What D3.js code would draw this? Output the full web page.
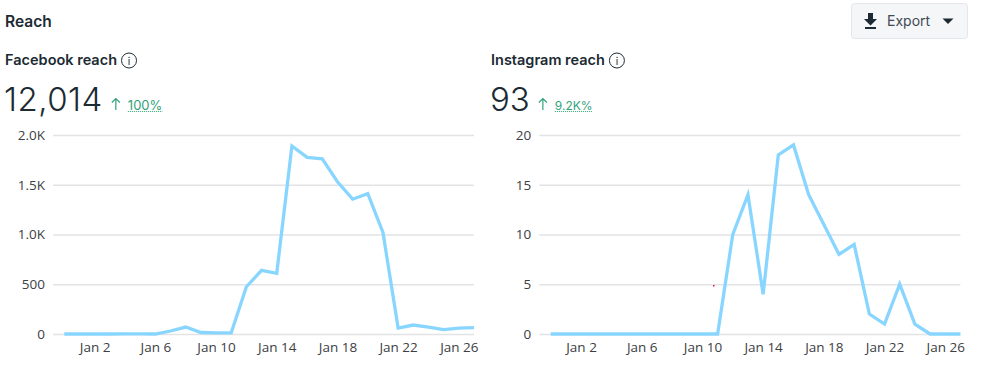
<!DOCTYPE html>
<html>
<head>
<meta charset="utf-8">
<script src="https://cdn.jsdelivr.net/npm/d3@7"></script>
<style>
  html, body { margin: 0; padding: 0; background: #fff; overflow: hidden; }
  text { font-family: Inter, "Noto Sans", sans-serif; }
  .tick text { font-family: "Open Sans", sans-serif; font-size: 13.5px; fill: #3c4043; }
  .tick line.grid { stroke: #e2e3e5; stroke-width: 1.5px; }
  .domain { display: none; }
</style>
</head>
<body>
<svg id="chart" width="981" height="380"></svg>
<script>
var dates = ["2023-12-31", "2024-01-01", "2024-01-02", "2024-01-03", "2024-01-04", "2024-01-05", "2024-01-06",
  "2024-01-07", "2024-01-08", "2024-01-09", "2024-01-10", "2024-01-11", "2024-01-12", "2024-01-13", "2024-01-14",
  "2024-01-15", "2024-01-16", "2024-01-17", "2024-01-18", "2024-01-19", "2024-01-20", "2024-01-21", "2024-01-22",
  "2024-01-23", "2024-01-24", "2024-01-25", "2024-01-26", "2024-01-27"];
var facebookValues = [0, 0, 0, 0, 2, 2, 0, 30, 70, 15, 12, 12, 475, 640, 610, 1890, 1775, 1760, 1530, 1355, 1410, 1020, 60, 90, 70, 45, 60, 65];
var instagramValues = [0, 0, 0, 0, 0, 0, 0, 0, 0, 0, 0, 0, 10, 14, 4, 18, 19, 14, 11, 8, 9, 2, 1, 5, 1, 0, 0, 0];
var facebookTicks = [0, 500, 1000, 1500, 2000];
var facebookTickLabels = ["0", "500", "1.0K", "1.5K", "2.0K"];
var instagramTicks = [0, 5, 10, 15, 20];
var instagramTickLabels = ["0", "5", "10", "15", "20"];
var dateTicks = ["2024-01-02", "2024-01-06", "2024-01-10", "2024-01-14", "2024-01-18", "2024-01-22", "2024-01-26"];

var parseDate = d3.timeParse("%Y-%m-%d");
var svg = d3.select("#chart");

var chartTop = 135;
var chartBottom = 334;

// draws one panel: header text, axes and the line
function drawPanel(opts) {
    var x = d3.scaleTime()
        .domain([parseDate(dates[0]), parseDate(dates[dates.length - 1])])
        .range([opts.lineLeft, opts.right]);
    var y = d3.scaleLinear()
        .domain([0, d3.max(opts.ticks)])
        .range([chartBottom, chartTop]);

    var leftAxis = d3.axisLeft(y)
        .tickValues(opts.ticks)
        .tickFormat((d, i) => opts.tickLabels[i])
        .tickSize(0)
        .tickPadding(8);
    var yAxis = svg.append("g")
        .attr("transform", `translate(${opts.gridLeft}, 0)`)
        .call(leftAxis);
    yAxis.selectAll(".tick").append("line")
        .attr("class", "grid")
        .attr("x1", 0)
        .attr("x2", opts.right - opts.gridLeft);

    var bottomAxis = d3.axisBottom(x)
        .tickValues(dateTicks.map(parseDate))
        .tickFormat(d3.timeFormat("%b %-d"))
        .tickSize(0)
        .tickPadding(8);
    svg.append("g")
        .attr("transform", `translate(0, ${chartBottom})`)
        .call(bottomAxis);

    var line = d3.line()
        .x((d, i) => x(parseDate(dates[i])))
        .y(d => y(d));
    svg.append("path")
        .datum(opts.values)
        .attr("d", line)
        .attr("fill", "none")
        .attr("stroke", "#88d6ff")
        .attr("stroke-width", 3.3)
        .attr("stroke-linejoin", "miter");

    // header
    var title = svg.append("text")
        .attr("x", opts.textLeft)
        .attr("y", 65)
        .attr("font-size", 14.5)
        .attr("font-weight", 600)
        .attr("fill", "#1c2b33")
        .text(opts.title);
    var titleEnd = opts.textLeft + title.node().getComputedTextLength();
    var infoX = titleEnd + 12;
    svg.append("circle")
        .attr("cx", infoX)
        .attr("cy", 60.5)
        .attr("r", 7.5)
        .attr("fill", "none")
        .attr("stroke", "#1c2b33")
        .attr("stroke-width", 1);
    svg.append("text")
        .attr("x", infoX)
        .attr("y", 65)
        .attr("text-anchor", "middle")
        .attr("font-size", 10.5)
        .attr("fill", "#1c2b33")
        .text("i");

    var total = svg.append("text")
        .attr("x", opts.textLeft - 1)
        .attr("y", 111)
        .attr("font-size", 33)
        .attr("font-weight", 300)
        .attr("letter-spacing", opts.totalSpacing)
        .attr("fill", "#1c2b33")
        .text(opts.total);
    var totalEnd = opts.textLeft - 1 + total.node().getComputedTextLength();

    // up arrow, thin and taller than the glyph
    var arrowX = totalEnd + 13;
    svg.append("path")
        .attr("d", `M${arrowX} 110V98.5M${arrowX - 4} 102.5L${arrowX} 98.5L${arrowX + 4} 102.5`)
        .attr("fill", "none")
        .attr("stroke", "#31a27b")
        .attr("stroke-width", 1.2);

    var change = svg.append("text")
        .attr("x", totalEnd + 25)
        .attr("y", 110)
        .attr("font-size", opts.changeSize)
        .attr("fill", "#31a27b")
        .text(opts.change);
    svg.append("line")
        .attr("x1", totalEnd + 25)
        .attr("x2", totalEnd + 25 + change.node().getComputedTextLength())
        .attr("y1", 111.5)
        .attr("y2", 111.5)
        .attr("stroke", "#31a27b")
        .attr("stroke-width", 1)
        .attr("stroke-dasharray", "1 1");
}

drawPanel({
    title: "Facebook reach", total: "12,014", change: "100%", totalSpacing: 0.5, changeSize: 13,
    values: facebookValues, ticks: facebookTicks, tickLabels: facebookTickLabels,
    textLeft: 5, gridLeft: 53, lineLeft: 64.3, right: 474
});
drawPanel({
    title: "Instagram reach", total: "93", change: "9.2K%", totalSpacing: 0, changeSize: 12,
    values: instagramValues, ticks: instagramTicks, tickLabels: instagramTickLabels,
    textLeft: 491, gridLeft: 539.3, lineLeft: 550.7, right: 960.4
});

// page heading
svg.append("text")
    .attr("x", 5)
    .attr("y", 27)
    .attr("font-size", 15.5)
    .attr("font-weight", 600)
    .attr("fill", "#1c2b33")
    .text("Reach");

// export button
svg.append("rect")
    .attr("x", 851.5)
    .attr("y", 3.5)
    .attr("width", 116)
    .attr("height", 35)
    .attr("rx", 3)
    .attr("fill", "#f5f6f7")
    .attr("stroke", "#e4e6eb");
svg.append("path")
    .attr("d", "M868 13h5v6h4l-6.5 6.5L864 19h4zM865 27h11v2h-11z")
    .attr("fill", "#1c2b33");
svg.append("text")
    .attr("x", 887)
    .attr("y", 26)
    .attr("font-size", 14)
    .attr("fill", "#3e4b54")
    .text("Export");
svg.append("path")
    .attr("d", "M942.5 18.5h11l-5.5 5.5z")
    .attr("fill", "#1c2b33");

// stray dot in the screenshot
svg.append("rect")
    .attr("x", 713)
    .attr("y", 285)
    .attr("width", 1.5)
    .attr("height", 1.5)
    .attr("fill", "#f01030");
</script>
</body>
</html>
